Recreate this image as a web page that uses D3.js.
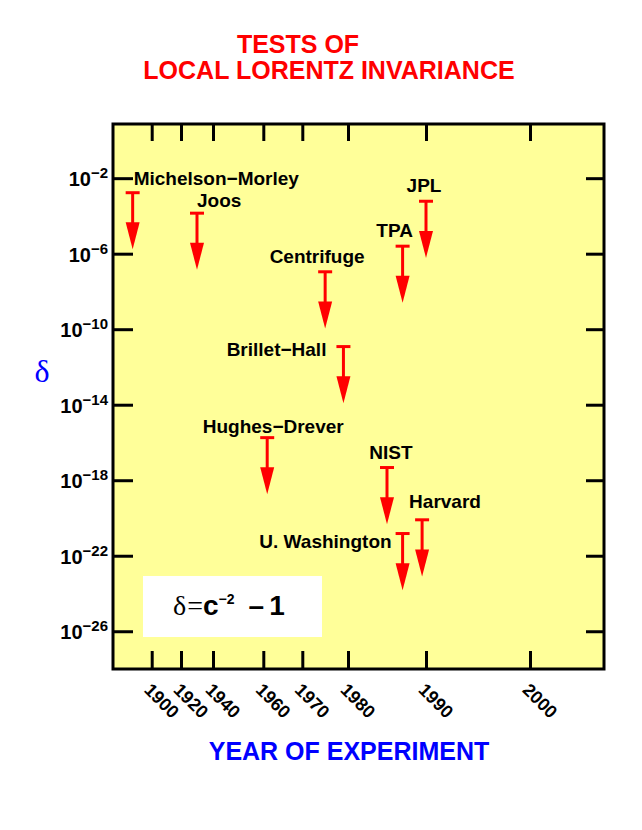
<!DOCTYPE html>
<html>
<head>
<meta charset="utf-8">
<script src="https://cdn.jsdelivr.net/npm/d3@7"></script>
<style>
	body { margin: 0; background: #fff; }
	text { font-family: "Liberation Sans", Arial, Helvetica, sans-serif; font-weight: bold; }
</style>
</head>
<body>
<script>

// experiments, year of the experiment and the upper limit on delta
var experiments = ["Michelson\u2212Morley", "Joos", "Centrifuge", "Brillet\u2212Hall", "Hughes\u2212Drever",
	"TPA", "JPL", "NIST", "Harvard", "U. Washington"];
var years = [1887, 1930, 1975, 1979, 1961, 1987, 1990, 1985, 1989.5, 1987];
var limits = [1.7e-3, 1.4e-4, 1.1e-7, 1.2e-11, 1.8e-16, 2.5e-6, 6e-4, 4.7e-18, 8e-21, 1.5e-21];

var yearTicks = [1900, 1920, 1940, 1960, 1970, 1980, 1990, 2000];
var deltaExponents = [-2, -6, -10, -14, -18, -22, -26];

// where each label sits relative to the top of its arrow
var labelPlace = {
	"Michelson\u2212Morley": { anchor: "start", dx: 1, dy: -8 },
	"Joos": { anchor: "start", dx: 0, dy: -6 },
	"Centrifuge": { anchor: "middle", dx: -8, dy: -9 },
	"Brillet\u2212Hall": { anchor: "end", dx: -17, dy: 9 },
	"Hughes\u2212Drever": { anchor: "middle", dx: 6, dy: -5 },
	"TPA": { anchor: "middle", dx: -8, dy: -9 },
	"JPL": { anchor: "middle", dx: -2, dy: -9 },
	"NIST": { anchor: "middle", dx: 4, dy: -9 },
	"Harvard": { anchor: "start", dx: -13, dy: -12 },
	"U. Washington": { anchor: "end", dx: -11, dy: 14 }
};

var width = 642, height = 830;
var plot = { left: 113, top: 124, right: 604, bottom: 669 };
var red = "#ff0000", blue = "#0000ff";
var serif = "'Liberation Serif', 'Times New Roman', serif";

var svg = d3.select("body").append("svg")
	.attr("width", width)
	.attr("height", height);

// the time axis of the original is uneven, so map each tick year on its own
var x = d3.scaleLinear()
	.domain(yearTicks)
	.range([38.7, 68, 100, 150.3, 189.3, 235, 313, 417].map(function(d) { return plot.left + d; }));

var y = d3.scaleLog()
	.domain([1e-28, Math.pow(10, 0.87)])
	.range([plot.bottom, plot.top]);

var deltaTicks = deltaExponents.map(function(e) { return Math.pow(10, e); });

// title
var title = svg.append("g").attr("fill", red).style("font-size", "25px");
title.append("text").attr("x", 298).attr("y", 53).attr("text-anchor", "middle").text("TESTS OF");
title.append("text").attr("x", 329).attr("y", 79).attr("text-anchor", "middle").text("LOCAL LORENTZ INVARIANCE");

// plot background
svg.append("rect")
	.attr("x", plot.left).attr("y", plot.top)
	.attr("width", plot.right - plot.left).attr("height", plot.bottom - plot.top)
	.attr("fill", "#ffff99");

// axes, all ticks pointing inwards
var bottomAxis = svg.append("g")
	.attr("transform", "translate(0," + plot.bottom + ")")
	.call(d3.axisBottom(x).tickValues(yearTicks).tickSize(-18).tickFormat(d3.format("d")));

bottomAxis.selectAll("text")
	.attr("x", 0).attr("y", 0).attr("dy", 0)
	.attr("text-anchor", "start")
	.attr("transform", "translate(-9,22) rotate(45)")
	.style("font-size", "18px");

svg.append("g")
	.attr("transform", "translate(0," + plot.top + ")")
	.call(d3.axisTop(x).tickValues(yearTicks).tickSize(-17).tickFormat(""));

var leftAxis = svg.append("g")
	.attr("transform", "translate(" + plot.left + ",0)")
	.call(d3.axisLeft(y).tickValues(deltaTicks).tickSize(-20).tickPadding(5).tickFormat(""));

leftAxis.selectAll(".tick text")
	.attr("dy", "0.38em")
	.style("font-size", "20px")
	.each(function(d) {
		var t = d3.select(this);
		t.append("tspan").text("10");
		t.append("tspan")
			.attr("dy", -8)
			.style("font-size", "15px")
			.text("\u2212" + Math.abs(Math.round(Math.log10(d))));
	});

svg.append("g")
	.attr("transform", "translate(" + plot.right + ",0)")
	.call(d3.axisRight(y).tickValues(deltaTicks).tickSize(-18).tickFormat(""));

svg.selectAll(".domain").remove();
svg.selectAll(".tick line").attr("stroke", "#000").attr("stroke-width", 3);
svg.selectAll(".tick text").attr("fill", "#000");

// frame
svg.append("rect")
	.attr("x", plot.left).attr("y", plot.top)
	.attr("width", plot.right - plot.left).attr("height", plot.bottom - plot.top)
	.attr("fill", "none")
	.attr("stroke", "#000")
	.attr("stroke-width", 3);

// legend box with the definition
svg.append("rect")
	.attr("x", plot.left + 30).attr("y", plot.top + 452)
	.attr("width", 179).attr("height", 61)
	.attr("fill", "#fff");

var formula = svg.append("text")
	.attr("x", plot.left + 60).attr("y", plot.top + 491)
	.style("font-size", "28px");
formula.append("tspan")
	.style("font-family", serif).style("font-weight", "normal")
	.text("\u03b4");
formula.append("tspan").attr("dx", 1)
	.style("font-family", serif).style("font-weight", "normal")
	.text("=");
formula.append("tspan").attr("dx", 0).text("c");
formula.append("tspan").attr("dy", -11).style("font-size", "14px").text("\u22122");
formula.append("tspan").attr("dy", 11).attr("dx", 14).text("\u2013");
formula.append("tspan").attr("dx", 5).text("1");

// limit arrows
var arrowDrop = 1e-3;   // each arrow spans three decades
var arrows = svg.append("g").selectAll("g")
	.data(experiments)
	.enter().append("g");

arrows.append("line")
	.attr("x1", function(d, i) { return x(years[i]) - 7; })
	.attr("x2", function(d, i) { return x(years[i]) + 7; })
	.attr("y1", function(d, i) { return y(limits[i]); })
	.attr("y2", function(d, i) { return y(limits[i]); })
	.attr("stroke", red).attr("stroke-width", 3);

arrows.append("line")
	.attr("x1", function(d, i) { return x(years[i]); })
	.attr("x2", function(d, i) { return x(years[i]); })
	.attr("y1", function(d, i) { return y(limits[i]); })
	.attr("y2", function(d, i) { return y(limits[i] * arrowDrop) - 20; })
	.attr("stroke", red).attr("stroke-width", 3);

arrows.append("path")
	.attr("d", function(d, i) {
		var cx = x(years[i]), tip = y(limits[i] * arrowDrop);
		return "M" + (cx - 7) + "," + (tip - 27) + "L" + (cx + 7) + "," + (tip - 27) + "L" + cx + "," + tip + "Z";
	})
	.attr("fill", red);

arrows.append("text")
	.attr("x", function(d, i) { return x(years[i]) + labelPlace[d].dx; })
	.attr("y", function(d, i) { return y(limits[i]) + labelPlace[d].dy; })
	.attr("text-anchor", function(d) { return labelPlace[d].anchor; })
	.style("font-size", "19px")
	.text(function(d) { return d; });

// axis titles
svg.append("text")
	.attr("x", 42).attr("y", 382)
	.attr("text-anchor", "middle")
	.attr("fill", blue)
	.style("font-family", serif)
	.style("font-weight", "normal")
	.style("font-size", "32px")
	.text("\u03b4");

svg.append("text")
	.attr("x", 349).attr("y", 760)
	.attr("text-anchor", "middle")
	.attr("fill", blue)
	.style("font-size", "25px")
	.text("YEAR OF EXPERIMENT");

</script>
</body>
</html>
